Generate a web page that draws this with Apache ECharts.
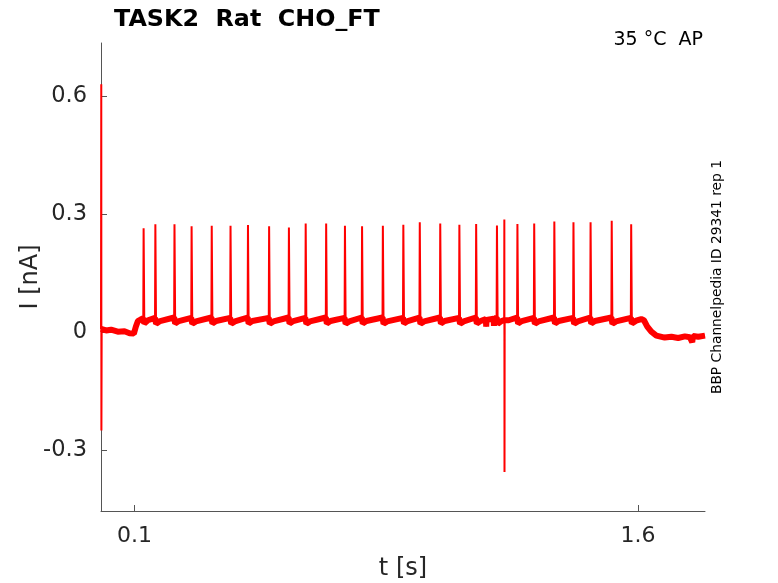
<!DOCTYPE html>
<html>
<head>
<meta charset="utf-8">
<title>TASK2 Rat CHO_FT</title>
<script src="https://cdn.jsdelivr.net/npm/echarts@6/dist/echarts.min.js"></script>
<style>
  html, body { margin: 0; padding: 0; background: #fff; }
  #main { width: 778px; height: 583px; }
</style>
</head>
<body>
<div id="main"></div>
<script type="text/javascript">
// tick positions
var xTicks = [0.1, 1.6];
var yTicks = [-0.3, 0, 0.3, 0.6];

// current trace [t (s), I (nA)]
var trace = [
    [0.000, 0.008], [0.0008, 0.63], [0.0012, -0.25], [0.002, 0.010],
    [0.015, 0.004], [0.030, 0.006], [0.050, 0.001], [0.070, 0.002], [0.085, -0.003], [0.098, -0.004],
    [0.104, 0.014], [0.110, 0.028], [0.118, 0.032],
    [0.126, 0.035], [0.127, 0.264], [0.129, 0.022], [0.140, 0.030],
    [0.161, 0.036], [0.162, 0.274], [0.164, 0.021], [0.176, 0.028],
    [0.218, 0.037], [0.219, 0.274], [0.221, 0.022], [0.232, 0.028],
    [0.269, 0.036], [0.270, 0.269], [0.272, 0.021], [0.283, 0.027],
    [0.329, 0.037], [0.330, 0.270], [0.332, 0.022], [0.343, 0.028],
    [0.385, 0.036], [0.386, 0.270], [0.388, 0.021], [0.399, 0.027],
    [0.437, 0.037], [0.438, 0.272], [0.440, 0.022], [0.451, 0.028],
    [0.500, 0.036], [0.501, 0.269], [0.503, 0.021], [0.514, 0.027],
    [0.559, 0.037], [0.560, 0.266], [0.562, 0.022], [0.573, 0.028],
    [0.609, 0.036], [0.610, 0.276], [0.612, 0.021], [0.623, 0.027],
    [0.670, 0.037], [0.671, 0.276], [0.673, 0.022], [0.684, 0.028],
    [0.726, 0.036], [0.727, 0.270], [0.729, 0.021], [0.740, 0.027],
    [0.777, 0.037], [0.778, 0.269], [0.780, 0.022], [0.791, 0.028],
    [0.839, 0.037], [0.840, 0.270], [0.842, 0.021], [0.853, 0.027],
    [0.900, 0.036], [0.901, 0.273], [0.903, 0.022], [0.914, 0.028],
    [0.949, 0.037], [0.950, 0.279], [0.952, 0.021], [0.963, 0.027],
    [1.010, 0.037], [1.011, 0.276], [1.013, 0.022], [1.024, 0.028],
    [1.067, 0.036], [1.068, 0.273], [1.070, 0.021], [1.081, 0.027],
    [1.117, 0.037], [1.118, 0.275], [1.120, 0.022], [1.131, 0.028],
    [1.147, 0.033], [1.148, 0.014], [1.149, 0.031],
    [1.170, 0.034], [1.171, 0.016], [1.172, 0.033],
    [1.179, 0.037], [1.180, 0.271], [1.182, 0.021], [1.193, 0.028],
    [1.2015, 0.030], [1.202, 0.286], [1.2025, -0.356], [1.203, 0.028],
    [1.215, 0.030],
    [1.240, 0.037], [1.241, 0.275], [1.243, 0.022], [1.254, 0.028],
    [1.290, 0.036], [1.291, 0.276], [1.293, 0.021], [1.304, 0.027],
    [1.350, 0.037], [1.351, 0.281], [1.353, 0.022], [1.364, 0.028],
    [1.407, 0.036], [1.408, 0.279], [1.410, 0.021], [1.421, 0.027],
    [1.458, 0.037], [1.459, 0.279], [1.461, 0.022], [1.472, 0.028],
    [1.521, 0.037], [1.522, 0.283], [1.524, 0.021], [1.535, 0.027],
    [1.579, 0.036], [1.580, 0.274], [1.582, 0.022], [1.595, 0.029],
    [1.610, 0.033], [1.618, 0.030], [1.628, 0.014], [1.640, 0.001],
    [1.655, -0.009], [1.680, -0.014], [1.700, -0.012], [1.720, -0.015],
    [1.740, -0.011], [1.755, -0.013], [1.762, -0.026], [1.764, -0.010],
    [1.780, -0.012], [1.800, -0.009]
];

// noise band along the baseline (same points, spikes left out)
var band = trace.filter(function (p) { return Math.abs(p[1]) < 0.1; });

var myChart = echarts.init(document.getElementById('main'));
var axisColor = '#555';
var textColor = '#262626';
var option = {
    animation: false,
    backgroundColor: '#fff',
    grid: { left: 101, right: 73, top: 43, bottom: 72, containLabel: false, outerBoundsMode: 'none' },
    title: {
        text: 'TASK2  Rat  CHO_FT',
        left: 109,
        top: 3,
        textStyle: { fontFamily: 'DejaVu Sans', fontWeight: 'bold', fontSize: 23.8, color: '#000' }
    },
    graphic: [
        {
            type: 'text', right: 75, top: 31,
            style: { text: '35 °C  AP', fontFamily: 'DejaVu Sans', fontSize: 19, fill: '#000' }
        },
        {
            type: 'text', left: 710, top: 160, rotation: Math.PI / 2,
            style: {
                text: 'BBP Channelpedia ID 29341 rep 1', fontFamily: 'DejaVu Sans',
                fontSize: 13.8, fill: '#000'
            }
        }
    ],
    xAxis: {
        type: 'value',
        min: 0,
        max: 1.8,
        name: 't [s]',
        nameLocation: 'middle',
        nameGap: 46,
        nameTextStyle: { fontFamily: 'DejaVu Sans', fontSize: 24, color: textColor },
        axisLine: { show: true, onZero: false, lineStyle: { color: axisColor, width: 1 } },
        axisTick: { show: true, inside: true, length: 6, customValues: xTicks, lineStyle: { color: axisColor } },
        axisLabel: {
            customValues: xTicks, margin: 14,
            fontFamily: 'DejaVu Sans', fontSize: 22, color: textColor,
            formatter: function (v) { return String(v); }
        },
        splitLine: { show: false }
    },
    yAxis: {
        type: 'value',
        min: -0.455,
        max: 0.735,
        name: 'I [nA]',
        nameLocation: 'middle',
        nameGap: 58,
        nameMoveOverlap: false,
        nameTextStyle: { fontFamily: 'DejaVu Sans', fontSize: 24, color: textColor },
        axisLine: { show: true, onZero: false, lineStyle: { color: axisColor, width: 1 } },
        axisTick: { show: true, inside: true, length: 6, customValues: yTicks, lineStyle: { color: axisColor } },
        axisLabel: {
            customValues: yTicks, margin: 14,
            fontFamily: 'DejaVu Sans', fontSize: 22.5, color: textColor,
            formatter: function (v) { return String(v); }
        },
        splitLine: { show: false }
    },
    series: [
        {
            name: 'band',
            type: 'line',
            data: band,
            showSymbol: false,
            silent: true,
            lineStyle: { color: '#ff0000', width: 6 },
            z: 2
        },
        {
            name: 'trace',
            type: 'line',
            data: trace,
            showSymbol: false,
            silent: true,
            lineStyle: { color: '#ff0000', width: 2 },
            z: 3
        }
    ]
};
myChart.setOption(option);
</script>
</body>
</html>
